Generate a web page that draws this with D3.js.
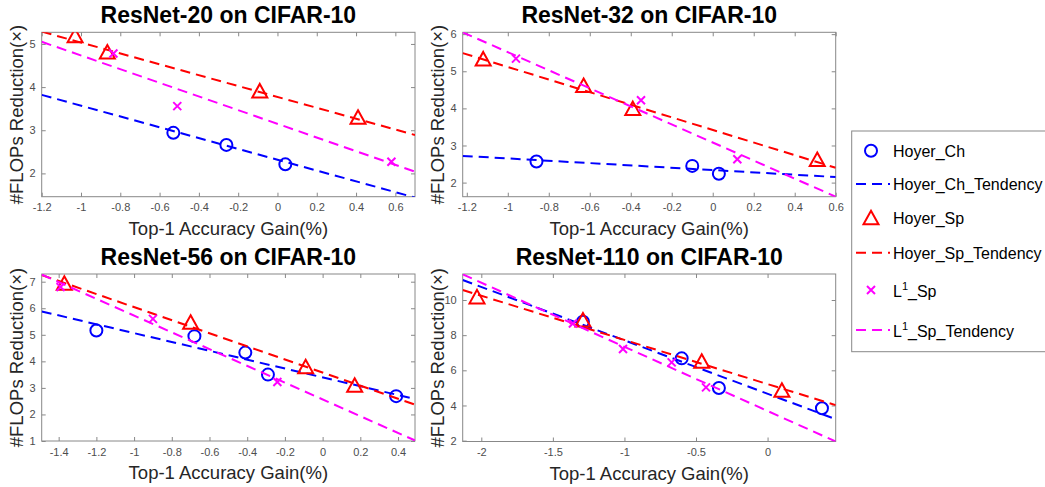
<!DOCTYPE html>
<html>
<head>
<meta charset="utf-8">
<script src="https://cdn.jsdelivr.net/npm/d3@7"></script>
<style>
  body { margin: 0; background: #fff; }
  svg { display: block; font-family: "Liberation Sans", Arial, sans-serif; }
  .tick text { fill: #4d4d4d; font-size: 11px; }
  .tick line { stroke: #888; }
  .domain { display: none; }
</style>
</head>
<body>
<div class="chart-area"></div>
<script>
// FLOPs reduction vs accuracy gain, 4 panels + shared legend

// ---- data ----
const titles = ["ResNet-20 on CIFAR-10", "ResNet-32 on CIFAR-10", "ResNet-56 on CIFAR-10", "ResNet-110 on CIFAR-10"];

const xDomains = [[-1.2, 0.70], [-1.22, 0.60], [-1.49, 0.49], [-2.13, 0.476]];
const yDomains = [[1.46, 5.27], [1.62, 6.05], [1.0, 7.29], [1.95, 11.48]];

const xTickValues = [
    [-1.2, -1, -0.8, -0.6, -0.4, -0.2, 0, 0.2, 0.4, 0.6],
    [-1.2, -1, -0.8, -0.6, -0.4, -0.2, 0, 0.2, 0.4, 0.6],
    [-1.4, -1.2, -1, -0.8, -0.6, -0.4, -0.2, 0, 0.2, 0.4],
    [-2, -1.5, -1, -0.5, 0]
];
const yTickValues = [
    [2, 3, 4, 5],
    [2, 3, 4, 5, 6],
    [1, 2, 3, 4, 5, 6, 7],
    [2, 4, 6, 8, 10]
];

// Hoyer_Ch (circles)
const hoyerChX = [[-0.53, -0.26, 0.04], [-0.86, -0.10, 0.03], [-1.20, -0.68, -0.41, -0.29, 0.39], [-1.29, -0.60, -0.34, 0.38]];
const hoyerChY = [[2.94, 2.66, 2.21], [2.57, 2.45, 2.24], [5.16, 4.95, 4.33, 3.50, 2.69], [8.77, 6.68, 4.99, 3.84]];
// Hoyer_Sp (triangles)
const hoyerSpX = [[-1.03, -0.866, -0.09, 0.41], [-1.12, -0.63, -0.39, 0.51], [-1.37, -0.70, -0.09, 0.17], [-2.03, -1.29, -0.46, 0.10]];
const hoyerSpY = [[5.18, 4.80, 3.90, 3.29], [5.32, 4.60, 3.98, 2.61], [6.92, 5.45, 3.78, 3.08], [10.15, 8.83, 6.49, 4.84]];
// L1_Sp (crosses)
const l1SpX = [[-0.835, -0.51, 0.58], [-0.96, -0.35, 0.12], [-1.39, -0.90, -0.24], [-1.36, -1.01, -0.67, -0.43]];
const l1SpY = [[4.78, 3.56, 2.27], [5.34, 4.22, 2.63], [6.80, 5.60, 3.22], [8.66, 7.21, 6.45, 5.03]];

// tendency lines: y at left and right end of the x domain
const hoyerChTrend = [[3.82, 1.44], [2.72, 2.15], [5.88, 2.58], [11.14, 3.22]];
const hoyerSpTrend = [[5.285, 2.89], [5.49, 2.40], [7.25, 2.37], [10.57, 4.02]];
const l1SpTrend = [[5.05, 2.04], [6.05, 1.62], [7.27, 1.02], [11.46, 1.95]];

const legendLabels = ["Hoyer_Ch", "Hoyer_Ch_Tendency", "Hoyer_Sp", "Hoyer_Sp_Tendency", "L|_Sp", "L|_Sp_Tendency"];

// ---- layout ----
const W = 1045, H = 487;
const panels = [
    { left: 41.7, right: 415, top: 32.3, bottom: 196.7 },
    { left: 462.7, right: 835.7, top: 32.3, bottom: 196.7 },
    { left: 41.7, right: 415, top: 274, bottom: 441 },
    { left: 462.7, right: 835.7, top: 274, bottom: 441.5 }
];
const BLUE = "#0000ff", RED = "#ff0000", MAGENTA = "#ff00ff";

const svg = d3.select(".chart-area")
    .append("svg")
    .attr("width", W)
    .attr("height", H);

const fmt = d => String(+d.toFixed(2));

function drawCircle(g, px, py) {
    g.append("circle").attr("cx", px).attr("cy", py).attr("r", 6)
        .attr("fill", "none").attr("stroke", BLUE).attr("stroke-width", 2);
}
function drawTriangle(g, px, py) {
    const s = 7.5;
    g.append("path")
        .attr("d", `M${px},${py - s}L${px + s},${py + s * 0.8}L${px - s},${py + s * 0.8}Z`)
        .attr("fill", "none").attr("stroke", RED).attr("stroke-width", 2)
        .attr("stroke-linejoin", "miter");
}
function drawCross(g, px, py) {
    const s = 4;
    g.append("path")
        .attr("d", `M${px - s},${py - s}L${px + s},${py + s}M${px - s},${py + s}L${px + s},${py - s}`)
        .attr("stroke", MAGENTA).attr("stroke-width", 2);
}

panels.forEach((p, i) => {
    const x = d3.scaleLinear().domain(xDomains[i]).range([p.left, p.right]);
    const y = d3.scaleLinear().domain(yDomains[i]).range([p.bottom, p.top]);
    const w = p.right - p.left, h = p.bottom - p.top;

    const g = svg.append("g");

    // axes with inward ticks on all sides
    g.append("g").attr("transform", `translate(0,${p.bottom})`)
        .call(d3.axisBottom(x).tickValues(xTickValues[i]).tickFormat(fmt).tickSizeInner(-4).tickSizeOuter(0).tickPadding(7));
    g.append("g").attr("transform", `translate(0,${p.top})`)
        .call(d3.axisTop(x).tickValues(xTickValues[i]).tickFormat("").tickSizeInner(-4).tickSizeOuter(0));
    g.append("g").attr("transform", `translate(${p.left},0)`)
        .call(d3.axisLeft(y).tickValues(yTickValues[i]).tickFormat(fmt).tickSizeInner(-4).tickSizeOuter(0).tickPadding(6));
    g.append("g").attr("transform", `translate(${p.right},0)`)
        .call(d3.axisRight(y).tickValues(yTickValues[i]).tickFormat("").tickSizeInner(-4).tickSizeOuter(0));

    g.append("rect")
        .attr("x", p.left).attr("y", p.top).attr("width", w).attr("height", h)
        .attr("fill", "none").attr("stroke", "#888").attr("stroke-width", 1);

    const clipId = "clip" + i;
    g.append("clipPath").attr("id", clipId)
        .append("rect").attr("x", p.left).attr("y", p.top).attr("width", w).attr("height", h);
    const plot = g.append("g").attr("clip-path", `url(#${clipId})`);

    const trendLine = (vals, color) => {
        plot.append("line")
            .attr("x1", x(xDomains[i][0])).attr("y1", y(vals[0]))
            .attr("x2", x(xDomains[i][1])).attr("y2", y(vals[1]))
            .attr("stroke", color).attr("stroke-width", 2)
            .attr("stroke-dasharray", "10,6");
    };

    hoyerChX[i].forEach((v, j) => drawCircle(plot, x(v), y(hoyerChY[i][j])));
    trendLine(hoyerChTrend[i], BLUE);
    hoyerSpX[i].forEach((v, j) => drawTriangle(plot, x(v), y(hoyerSpY[i][j])));
    trendLine(hoyerSpTrend[i], RED);
    l1SpX[i].forEach((v, j) => drawCross(plot, x(v), y(l1SpY[i][j])));
    trendLine(l1SpTrend[i], MAGENTA);

    // title
    g.append("text")
        .attr("x", (p.left + p.right) / 2).attr("y", p.top - 9.5)
        .attr("text-anchor", "middle")
        .attr("font-size", 23).attr("font-weight", "bold").attr("fill", "#000")
        .text(titles[i]);

    // x label
    g.append("text")
        .attr("x", (p.left + p.right) / 2).attr("y", p.bottom + 38)
        .attr("text-anchor", "middle")
        .attr("font-size", 18.5).attr("fill", "#262626")
        .text("Top-1 Accuracy Gain(%)");

    // y label
    g.append("text")
        .attr("transform", `translate(${p.left - 19},${(p.top + p.bottom) / 2}) rotate(-90)`)
        .attr("text-anchor", "middle")
        .attr("font-size", 18.5).attr("fill", "#262626")
        .text("#FLOPs Reduction(×)");
});

// ---- legend ----
const legend = svg.append("g");
legend.append("rect")
    .attr("x", 851.7).attr("y", 131).attr("width", 220).attr("height", 220.7)
    .attr("fill", "#fff").attr("stroke", "#888").attr("stroke-width", 1);

const rowY = [150.7, 184, 218.3, 252.7, 290, 330];
const rowColor = [BLUE, BLUE, RED, RED, MAGENTA, MAGENTA];

legendLabels.forEach((lab, k) => {
    const yy = rowY[k];
    if (k === 0) drawCircle(legend, 871, yy);
    else if (k === 2) drawTriangle(legend, 871, yy);
    else if (k === 4) drawCross(legend, 871, yy);
    else {
        legend.append("line")
            .attr("x1", 856).attr("x2", 890).attr("y1", yy).attr("y2", yy)
            .attr("stroke", rowColor[k]).attr("stroke-width", 2)
            .attr("stroke-dasharray", "10,6");
    }
    const t = legend.append("text")
        .attr("x", 893).attr("y", yy + (k >= 4 ? 7 : 6))
        .attr("font-size", 16).attr("fill", "#000");
    if (lab.startsWith("L|")) {
        t.append("tspan").text("L");
        t.append("tspan").attr("dy", -7).attr("font-size", 11).text("1");
        t.append("tspan").attr("dy", 7).text(lab.slice(2));
    } else {
        t.text(lab);
    }
});
</script>
</body>
</html>
